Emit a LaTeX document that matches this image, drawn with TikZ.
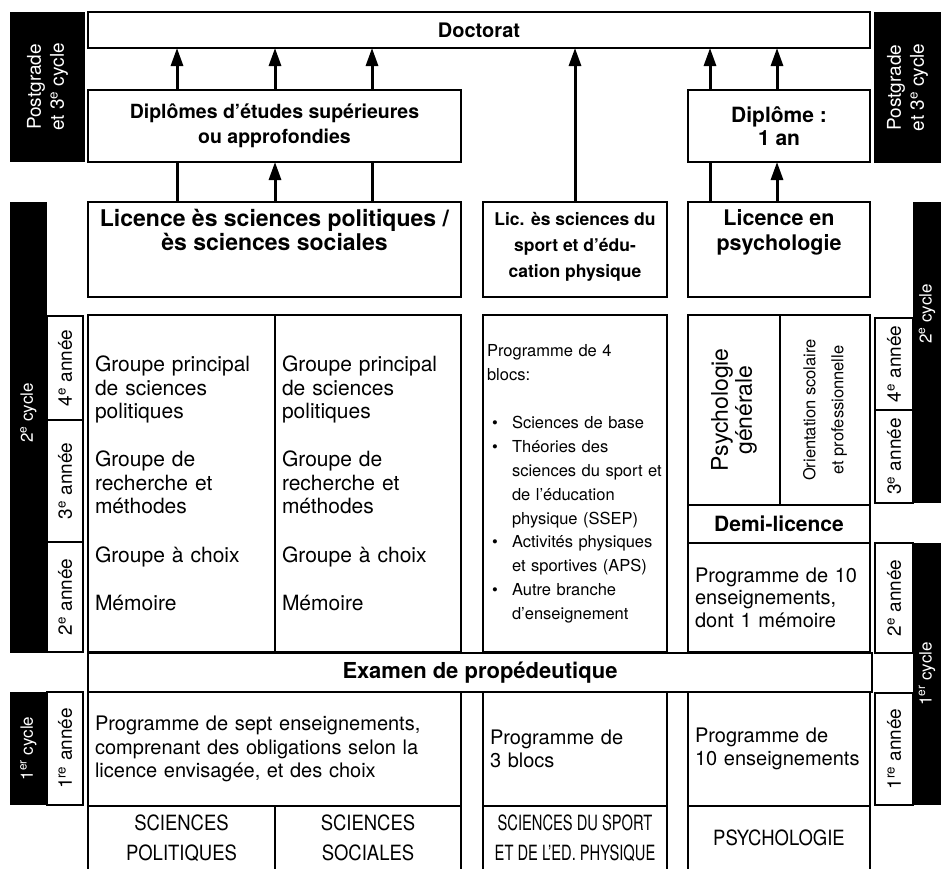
\documentclass[tikz,border=0pt]{standalone}
\usepackage{fontspec}
\setmainfont{TeX Gyre Heros}
\newfontfamily\capsfont[FakeStretch=0.88]{TeX Gyre Heros}
\newfontfamily\narrowfont[FakeStretch=0.7]{TeX Gyre Heros}
\usetikzlibrary{arrows.meta, positioning}

\newcommand{\sportbullet}{\hspace*{5pt}\makebox[20pt][l]{\textbullet}}
\newcommand{\sportindent}{\hspace*{25pt}}

\begin{document}
\begin{tikzpicture}[x=1pt, y=-1pt,
    cell/.style={draw, line width=1.4pt, anchor=north west, inner xsep=7pt, inner ysep=0pt, outer sep=0pt},
    dark/.style={fill=black, text=white, anchor=north west, inner sep=0pt, outer sep=0pt},
    body/.style={align=left, font=\fontsize{20}{23.4}\selectfont},
    cycletext/.style={text=white, rotate=90, align=center, inner sep=0pt, font=\fontsize{17}{23}\selectfont},
    yeartext/.style={rotate=90, anchor=center, inner sep=0pt, font=\fontsize{19}{22}\selectfont},
    faculty/.style={align=center, font=\capsfont\fontsize{21}{30}\selectfont},
    uparrow/.style={line width=3pt, -{Triangle[length=18pt,width=12pt]}},
    link/.style={line width=3pt}
  ]
  \useasboundingbox (0,0) rectangle (941,868);
  \clip (0,0) rectangle (941,868);

  % Black cycle bars
  \node[dark, cycletext, anchor=center, minimum width=150pt, minimum height=75pt, font=\fontsize{19}{23}\selectfont] (pgL) at (47.5,87) {Postgrade\\et 3\textsuperscript{e} cycle};
  \node[dark, cycletext, anchor=center, minimum width=151pt, minimum height=67pt, font=\fontsize{19}{23}\selectfont] (pgR) at (907.5,87.5) {Postgrade\\et 3\textsuperscript{e} cycle};
  \node[dark, minimum width=37pt, minimum height=451pt] (c2L) at (10,202) {};
  \node[cycletext] (c2Ltxt) at (28.5,413) {2\textsuperscript{e} cycle};
  \node[dark, minimum width=28pt, minimum height=301pt] (c2R) at (913,202) {};
  \node[cycletext] (c2Rtxt) at (927,314) {2\textsuperscript{e} cycle};
  \node[dark, cycletext, anchor=center, minimum width=113pt, minimum height=37pt] (c1L) at (28.5,748.5) {1\textsuperscript{er} cycle};
  \node[dark, cycletext, anchor=center, minimum width=262pt, minimum height=28pt] (c1R) at (927,674) {1\textsuperscript{er} cycle};

  % Year boxes
  \node[cell, yeartext, minimum width=104pt, minimum height=36pt] (y4L) at (65,368) {4\textsuperscript{e} année};
  \node[cell, yeartext, minimum width=122pt, minimum height=36pt] (y3L) at (65,481) {3\textsuperscript{e} année};
  \node[cell, yeartext, minimum width=110pt, minimum height=36pt] (y2L) at (65,597) {2\textsuperscript{e} année};
  \node[cell, yeartext, minimum width=113pt, minimum height=36pt] (y1L) at (65,748.5) {1\textsuperscript{re} année};
  \node[cell, yeartext, minimum width=92pt, minimum height=38pt] (y4R) at (894,364) {4\textsuperscript{e} année};
  \node[cell, yeartext, minimum width=93pt, minimum height=38pt] (y3R) at (894,456.5) {3\textsuperscript{e} année};
  \node[cell, yeartext, minimum width=110pt, minimum height=38pt] (y2R) at (894,598) {2\textsuperscript{e} année};
  \node[cell, yeartext, minimum width=112pt, minimum height=38pt] (y1R) at (894,749) {1\textsuperscript{re} année};

  % Doctorat and diplomas
  \node[cell, minimum width=782pt, minimum height=36pt, font=\bfseries\fontsize{20}{24}\selectfont] (doct) at (88,12) {Doctorat};
  \node[cell, minimum width=373pt, minimum height=72pt, align=center, font=\bfseries\fontsize{19.5}{25}\selectfont] (dipl) at (88,90)
    {Diplômes d’études supérieures\\ou approfondies};
  \node[cell, minimum width=182pt, minimum height=72pt, align=center, font=\bfseries\fontsize{21}{23}\selectfont] (dip1) at (688,90)
    {Diplôme :\\1 an};

  % Licences
  \node[cell, minimum width=373pt, minimum height=95pt] (licpol) at (88,202) {};
  \node[below=7pt of licpol.north, inner sep=0pt, align=center, font=\bfseries\fontsize{23}{24}\selectfont] (licpoltxt)
    {Licence ès sciences politiques /\\ès sciences sociales};
  \node[cell, minimum width=184pt, minimum height=95pt] (licsport) at (483,202) {};
  \node[below=10pt of licsport.north, inner sep=0pt, align=center, font=\bfseries\fontsize{17.5}{26}\selectfont] (licsporttxt)
    {Lic. ès sciences du\\sport et d’édu-\\cation physique};
  \node[cell, minimum width=182pt, minimum height=95pt] (licpsy) at (688,202) {};
  \node[below=7pt of licpsy.north, inner sep=0pt, align=center, font=\bfseries\fontsize{21.5}{25}\selectfont] (licpsytxt)
    {Licence en\\psychologie};

  % 2e cycle programmes
  \node[cell, body, text width=173pt, minimum height=337pt, font=\fontsize{21}{23.4}\selectfont] (grpA) at (88,315)
    {Groupe principal\\de sciences\\politiques\\[25pt]Groupe de\\recherche et\\méthodes\\[25pt]Groupe à choix\\[25pt]Mémoire};
  \node[cell, body, text width=172pt, minimum height=337pt, font=\fontsize{21}{23.4}\selectfont] (grpB) at (275,315)
    {Groupe principal\\de sciences\\politiques\\[25pt]Groupe de\\recherche et\\méthodes\\[25pt]Groupe à choix\\[25pt]Mémoire};
  \node[cell, body, inner xsep=4pt, text width=176pt, minimum height=337pt, font=\fontsize{16.5}{23.8}\selectfont] (sport4) at (483,315)
    {Programme de 4\\blocs:\\[25pt]
     \sportbullet Sciences de base\\
     \sportbullet Théories des\\
     \sportindent sciences du sport et\\
     \sportindent de l’éducation\\
     \sportindent physique (SSEP)\\
     \sportbullet Activités physiques\\
     \sportindent et sportives (APS)\\
     \sportbullet Autre branche\\
     \sportindent d’enseignement};
  \node[cell, anchor=center, rotate=90, minimum width=190pt, minimum height=92pt, align=center, font=\fontsize{23}{24}\selectfont] (psyg) at (734,410)
    {Psychologie\\générale};
  \node[cell, anchor=center, rotate=90, minimum width=190pt, minimum height=90pt, align=center, font=\fontsize{16.5}{28}\selectfont] (orient) at (825,410)
    {Orientation scolaire\\et professionnelle};
  \node[cell, minimum width=182pt, minimum height=38pt, font=\bfseries\fontsize{21}{24}\selectfont] (demi) at (688,505) {Demi-licence};
  \node[cell, body, text width=168pt, minimum height=109pt, font=\fontsize{20}{22.5}\selectfont] (psy10) at (688,543)
    {Programme de 10\\enseignements,\\dont 1 mémoire};

  % Examen
  \node[cell, minimum width=784pt, minimum height=39pt, font=\bfseries\fontsize{22}{24}\selectfont] (exam) at (88,653) {Examen de propédeutique};

  % 1er cycle programmes
  \node[cell, body, text width=359pt, minimum height=114pt] (prog7) at (88,692)
    {Programme de sept enseignements,\\comprenant des obligations selon la\\licence envisagée, et des choix};
  \node[cell, body, text width=170pt, minimum height=114pt] (prog3) at (483,692)
    {Programme de\\3 blocs};
  \node[cell, body, text width=168pt, minimum height=114pt] (prog10) at (688,692)
    {Programme de\\10 enseignements};

  % Faculties
  \node[cell, faculty, minimum width=187pt, minimum height=64pt] (fpol) at (88,806) {SCIENCES\\POLITIQUES};
  \node[cell, faculty, minimum width=186pt, minimum height=64pt] (fsoc) at (275,806) {SCIENCES\\SOCIALES};
  \node[cell, faculty, minimum width=184pt, minimum height=64pt, font=\narrowfont\fontsize{21}{30}\selectfont] (fsport) at (483,806)
    {SCIENCES DU SPORT\\ET DE L’ED. PHYSIQUE};
  \node[cell, faculty, minimum width=182pt, minimum height=64pt] (fpsy) at (688,806) {PSYCHOLOGIE};

  % Arrows to Doctorat
  \foreach \x in {177,275,372} {
    \coordinate (p) at (\x,0);
    \draw[uparrow] (dipl.north -| p) -- (doct.south -| p);
  }
  \draw[uparrow] (licsport.north) -- (licsport.north |- doct.south);
  \foreach \x in {710,777} {
    \coordinate (p) at (\x,0);
    \draw[uparrow] (dip1.north -| p) -- (doct.south -| p);
  }

  % Licences to diplomas
  \coordinate (pa) at (177,0);
  \coordinate (pb) at (275,0);
  \coordinate (pc) at (372,0);
  \coordinate (pd) at (710,0);
  \coordinate (pe) at (777,0);
  \draw[link] (licpol.north -| pa) -- (dipl.south -| pa);
  \draw[uparrow] (licpol.north -| pb) -- (dipl.south -| pb);
  \draw[link] (licpol.north -| pc) -- (dipl.south -| pc);
  \draw[link] (licpsy.north -| pd) -- (dip1.south -| pd);
  \draw[uparrow] (licpsy.north -| pe) -- (dip1.south -| pe);
\end{tikzpicture}
\end{document}
